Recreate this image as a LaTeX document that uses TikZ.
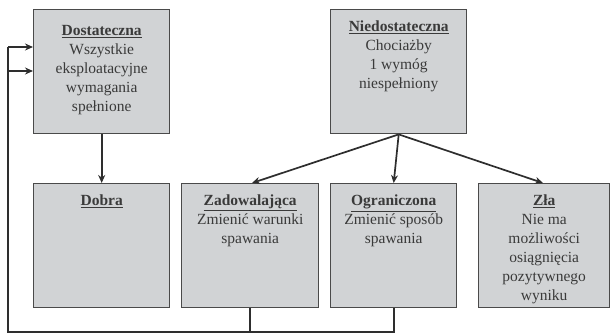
\documentclass[tikz,border=0pt]{standalone}
\usepackage{fontspec}
\setmainfont{Liberation Serif}
\usetikzlibrary{arrows.meta}
\definecolor{boxfill}{HTML}{D1D3D5}
\definecolor{boxdraw}{HTML}{4A4A4A}
\definecolor{txtcol}{HTML}{3A3A3A}
\definecolor{linecol}{HTML}{2E2E2E}
\begin{document}
\begin{tikzpicture}[x=1pt,y=-1pt,
  box/.style={draw=boxdraw,fill=boxfill,line width=1.4pt,anchor=north west,inner sep=0pt,minimum width=136pt,minimum height=124pt},
  txt/.style={anchor=north,align=center,inner sep=0pt,text=txtcol,font=\fontsize{15.5}{19}\selectfont},
  conn/.style={draw=linecol,line width=1.7pt},
  arr/.style={conn,-{Stealth[length=8pt,width=7pt]}}]
\useasboundingbox (0,0) rectangle (611,334);
% boxes
\node[box] (dost) at (33,9) {};
\node[box] (nied) at (330,9) {};
\node[box] (dobra) at (33,183) {};
\node[box,minimum width=137pt] (zad) at (181,183) {};
\node[box,minimum width=126pt] (ogr) at (330,183) {};
\node[box,minimum width=131pt] (zla) at (478,183) {};
% texts
\node[txt] (dostt) at ([yshift=-16pt]dost.north) {\textbf{\underline{Dostateczna}}\\Wszystkie\\eksploatacyjne\\wymagania\\spełnione};
\node[txt] (niedt) at ([yshift=-12pt]nied.north) {\textbf{\underline{Niedostateczna}}\\Chociażby\\1 wymóg\\niespełniony};
\node[txt] (dobrat) at ([yshift=-12pt]dobra.north) {\textbf{\underline{Dobra}}};
\node[txt] (zadt) at ([yshift=-12pt]zad.north) {\textbf{\underline{Zadowalająca}}\\Zmienić warunki\\spawania};
\node[txt] (ogrt) at ([yshift=-12pt]ogr.north) {\textbf{\underline{Ograniczona}}\\Zmienić sposób\\spawania};
\node[txt] (zlat) at ([yshift=-12pt]zla.north) {\textbf{\underline{Zła}}\\Nie ma\\możliwości\\osiągnięcia\\pozytywnego\\wyniku};
% arrows
\draw[arr] (dost.south) -- (dobra.north);
\coordinate (zadin) at (252,183);
\coordinate (zlain) at (543,183);
\draw[arr] (nied.south) -- (zadin);
\draw[arr] (nied.south) -- (ogr.north);
\draw[arr] (nied.south) -- (zlain);
% feedback
\coordinate (bl) at (8,332);
\coordinate (in1) at (33,47);
\coordinate (in2) at (33,71);
\draw[conn] (zad.south) -- (zad.south |- bl);
\draw[conn] (ogr.south) -- (ogr.south |- bl) -- (bl) -- (bl |- in1);
\draw[arr] (bl |- in1) -- (in1);
\draw[arr] (bl |- in2) -- (in2);
\end{tikzpicture}
\end{document}
